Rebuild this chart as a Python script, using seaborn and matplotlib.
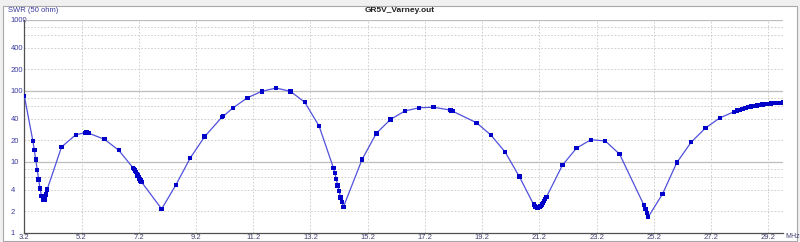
import matplotlib
matplotlib.use("Agg")
import matplotlib.pyplot as plt
from matplotlib.patches import Rectangle
import seaborn as sns
import pandas as pd

# ---- data ----
freq_mhz = [3.20, 3.50, 3.55, 3.60, 3.65, 3.70, 3.75, 3.80, 3.85, 3.90, 3.95, 4.00,
            4.50, 5.00, 5.33, 5.37, 5.40, 5.45, 6.00, 6.50,
            7.00, 7.03, 7.06, 7.10, 7.13, 7.16, 7.20, 7.23, 7.26, 7.30,
            8.00, 8.50, 9.00, 9.50, 10.10, 10.15, 10.50, 11.00, 11.50, 12.00,
            12.50, 13.00, 13.50,
            14.00, 14.05, 14.10, 14.15, 14.20, 14.25, 14.30, 14.35,
            15.00, 15.50, 16.00, 16.50, 17.00, 17.50, 18.07, 18.11, 18.17,
            19.00, 19.50, 20.00, 20.50,
            21.00, 21.04, 21.08, 21.12, 21.16, 21.20, 21.24, 21.28, 21.32, 21.36, 21.40, 21.45,
            22.00, 22.50, 23.00, 23.50, 24.00,
            24.85, 24.90, 24.95, 25.00,
            25.50, 26.00, 26.50, 27.00, 27.50,
            28.00, 28.10, 28.20, 28.30, 28.40, 28.50, 28.60, 28.70, 28.80, 28.90,
            29.00, 29.10, 29.20, 29.30, 29.40, 29.50, 29.60, 29.70]
swr = [85, 19.6, 14.5, 10.7, 7.7, 5.65, 4.17, 3.32, 2.95, 2.95, 3.43, 4.08,
       16.1, 24.0, 25.6, 25.7, 25.5, 25.2, 20.7, 14.5,
       8.2, 7.85, 7.5, 7.1, 6.75, 6.4, 6.05, 5.75, 5.45, 5.15,
       2.16, 4.74, 11.3, 22.5, 42.2, 43.6, 57.6, 79.7, 98, 109,
       98, 68.7, 31.8,
       8.2, 6.93, 5.7, 4.65, 3.83, 3.15, 2.68, 2.30,
       10.7, 25.1, 39.5, 51.8, 57.6, 58.5, 53.5, 52.4, 51.4,
       35.4, 23.8, 13.7, 6.15,
       2.48, 2.35, 2.28, 2.23, 2.25, 2.30, 2.39, 2.48, 2.62, 2.79, 2.98, 3.21,
       8.9, 15.6, 20.4, 19.6, 12.8,
       2.45, 2.14, 1.88, 1.66,
       3.51, 9.7, 18.8, 29.8, 41.3,
       50.6, 52.3, 54.0, 55.5, 57.0, 58.4, 59.7, 60.9, 62.0, 63.0,
       63.9, 64.7, 65.4, 66.0, 66.5, 67.0, 67.4, 67.8]

x_ticks = [3.2, 5.2, 7.2, 9.2, 11.2, 13.2, 15.2, 17.2, 19.2, 21.2, 23.2, 25.2, 27.2, 29.2]
x_tick_labels = ["3.2", "5.2", "7.2", "9.2", "11.2", "13.2", "15.2", "17.2", "19.2",
                 "21.2", "23.2", "25.2", "27.2", "29.2"]
y_ticks = [1, 2, 4, 10, 20, 40, 100, 200, 400, 1000]
y_tick_labels = ["1", "2", "4", "10", "20", "40", "100", "200", "400", "1000"]
y_minor_grid = [2, 4, 6, 8, 20, 40, 60, 80, 200, 400, 600, 800]
y_major_grid = [10, 100, 1000]

title_text = "GR5V_Varney.out"
y_title = "SWR (50 ohm)"
x_unit = "MHz"

df = pd.DataFrame({"freq": freq_mhz, "swr": swr})

sns.set_theme(style="white")
plt.rcParams["font.family"] = ["Liberation Sans", "DejaVu Sans"]

W, H = 800, 242
fig = plt.figure(figsize=(W / 100, H / 100), dpi=100)
fig.patch.set_facecolor("#f0f0f0")
fig.add_artist(Rectangle((3 / W, 1 - 241 / H), 794 / W, 235 / H,
                         transform=fig.transFigure, facecolor="white",
                         edgecolor="#a8a8a8", lw=0.8, zorder=0))

left, right, top, bottom = 24.3, 782.7, 19.7, 232.7
ax = fig.add_axes([left / W, 1 - bottom / H, (right - left) / W, (bottom - top) / H])
ax.set_facecolor("white")

for yv in y_minor_grid:
    ax.axhline(yv, color="#c8c8c8", lw=0.6, ls=(0, (2, 2)), zorder=1)
for yv in y_major_grid:
    ax.axhline(yv, color="#bdbdbd", lw=0.9, zorder=1)
for xv in x_ticks[1:]:
    ax.axvline(xv, color="#c8c8c8", lw=0.6, ls=(0, (2, 2)), zorder=1)

sns.lineplot(data=df, x="freq", y="swr", ax=ax, color="#5050dc", lw=0.9,
             sort=False, zorder=3)
sns.scatterplot(data=df, x="freq", y="swr", ax=ax, color="#0000c8", s=10,
                marker="s", edgecolor="none", linewidth=0, zorder=4)

ax.set_yscale("log")
ax.set_ylim(1, 1000)
ax.set_xlim(3.2, 29.7)
ax.set_yticks(y_ticks)
ax.set_yticklabels(y_tick_labels)
ax.minorticks_off()
ax.set_xticks(x_ticks)
ax.set_xticklabels(x_tick_labels)
ax.tick_params(axis="both", length=0, labelsize=5.5)
ax.tick_params(axis="y", pad=9.9, labelcolor="#3a3aa0")
ax.tick_params(axis="x", pad=1.0, labelcolor="#404070")
for lab in ax.get_yticklabels():
    lab.set_horizontalalignment("left")
ax.set_xlabel("")
ax.set_ylabel("")

for s in ["top", "right"]:
    ax.spines[s].set_visible(False)
for s in ["left", "bottom"]:
    ax.spines[s].set_color("#505050")
    ax.spines[s].set_linewidth(0.9)

fig.text(8 / W, 1 - 11 / H, y_title, fontsize=5.5, color="#3a3aa0",
         ha="left", va="center")
fig.text(400 / W, 1 - 11 / H, title_text, fontsize=6, fontweight="bold",
         color="#202020", ha="center", va="center")
fig.text(785 / W, 1 - 237 / H, x_unit, fontsize=5, color="#404070",
         ha="left", va="center")

fig.savefig("out.png", dpi=100, facecolor=fig.get_facecolor())
